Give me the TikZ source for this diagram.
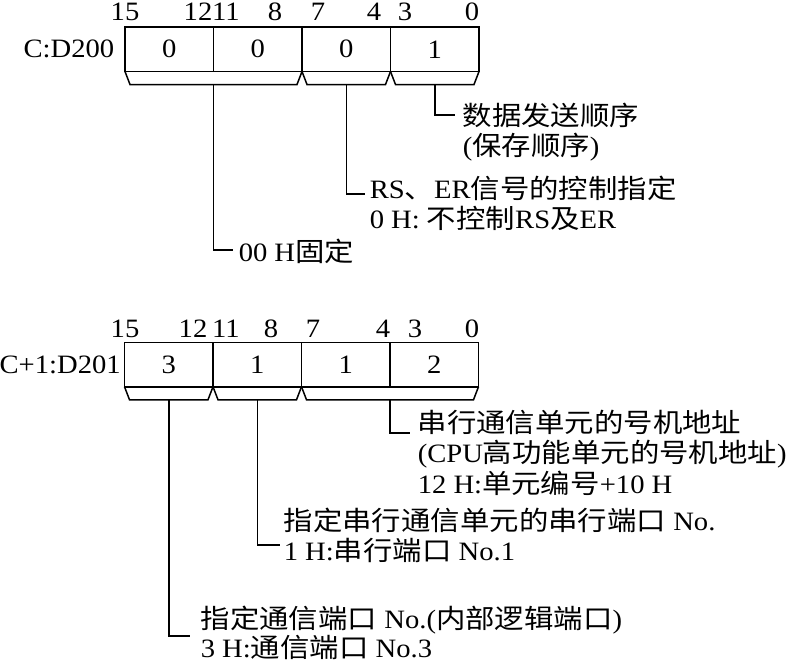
\documentclass[tikz,border=0pt]{standalone}
\usepackage{fontspec}
\setmainfont{Liberation Serif}[FakeStretch=1.08]
\newfontfamily\zhfont{Noto Sans CJK SC}[FakeStretch=1.11]
\newcommand{\zh}[1]{{\zhfont #1}}
\usepackage{tikz}
\usetikzlibrary{positioning}
\usetikzlibrary{calc}
\tikzset{
  every node/.style={font=\fontsize{26.5}{30.5}\selectfont},
  field/.style={draw, outer sep=0pt, inner sep=0pt,
   minimum width=88.5pt, minimum height=44.5pt},
  bitno/.style={inner sep=0pt, anchor=base},
  regname/.style={inner sep=0pt, anchor=east},
  note/.style={inner sep=0pt, anchor=base west, align=left},
}
% bracket under fields #1..#2, bottom centre named #3
\newcommand{\regbrk}[3]{%
  \draw (#1.south west) -- ++(5,13) -- ([shift={(-5,13)}]#2.south east)
    -- (#2.south east);
  \coordinate (#3) at ($(#1.south west)!0.5!(#2.south east)+(0,13)$);
}

\begin{document}
\begin{tikzpicture}[x=1pt, y=-1pt, line width=1.5pt]
  \useasboundingbox (0,0) rectangle (793,665);

  % C:D200
  \node[field] (a1) at (169.25,49.25) {0};
  \node[field, right=0pt of a1] (a2) {0};
  \node[field, right=0pt of a2] (a3) {0};
  \node[field, right=0pt of a3] (a4) {1};
  \node[regname] (ra) at ([xshift=-10pt]a1.west) {C:D200};
  \foreach \x/\b in {125/15,198/12,226/11,275/8,318/7,374/4,405/3,472/0}
    \node[bitno] (u\b) at (\x,20) {\b};
  \regbrk{a1}{a2}{pA}
  \regbrk{a3}{a3}{pB}
  \regbrk{a4}{a4}{pC}

  % base = last line
  \node[note] (nC) at (462,155.5) {\zh{数据发送顺序}\\(\zh{保存顺序})};
  \node[note] (nB) at (369,228.5) {RS\zh{、}ER\zh{信号的控制指定}\\0 H: \zh{不控制}RS\zh{及}ER};
  \node[note] (nA) at (238,261) {00 H\zh{固定}};
  \draw (pC) |- ([shift={(-7,-40.5)}]nC.base west);
  \draw (pB) |- ([shift={(-4,-34.5)}]nB.base west);
  \draw (pA) |- ([shift={(-5,-11)}]nA.base west);

  % C+1:D201
  \node[field] (b1) at (168.75,364.5) {3};
  \node[field, right=0pt of b1] (b2) {1};
  \node[field, right=0pt of b2] (b3) {1};
  \node[field, right=0pt of b3] (b4) {2};
  \node[regname] (rb) at ([xshift=-3pt]b1.west) {C+1:D201};
  \foreach \x/\b in {125/15,193/12,226/11,271/8,313/7,383/4,415/3,472/0}
    \node[bitno] (v\b) at (\x,337) {\b};
  \regbrk{b1}{b1}{qA}
  \regbrk{b2}{b2}{qB}
  \regbrk{b3}{b4}{qC}

  \node[note] (mC) at (417,493) {\zh{串行通信单元的号机地址}\\(CPU\zh{高功能单元的号机地址})\\12 H:\zh{单元编号}+10 H};
  \node[note] (mB) at (283,560.5) {\zh{指定串行通信单元的串行端口} No.\\1 H:\zh{串行端口} No.1};
  \node[note, font=\fontsize{26.5}{25}\selectfont] (mA) at (200,657)
    {\zh{指定通信端口} No.(\zh{内部逻辑端口})\\3 H:\zh{通信端口} No.3};
  \draw (qC) |- ([shift={(-7,-60)}]mC.base west);
  \draw (qB) |- ([shift={(-3,-15.5)}]mB.base west);
  \draw (qA) |- ([shift={(-10,-21)}]mA.base west);
\end{tikzpicture}
\end{document}
